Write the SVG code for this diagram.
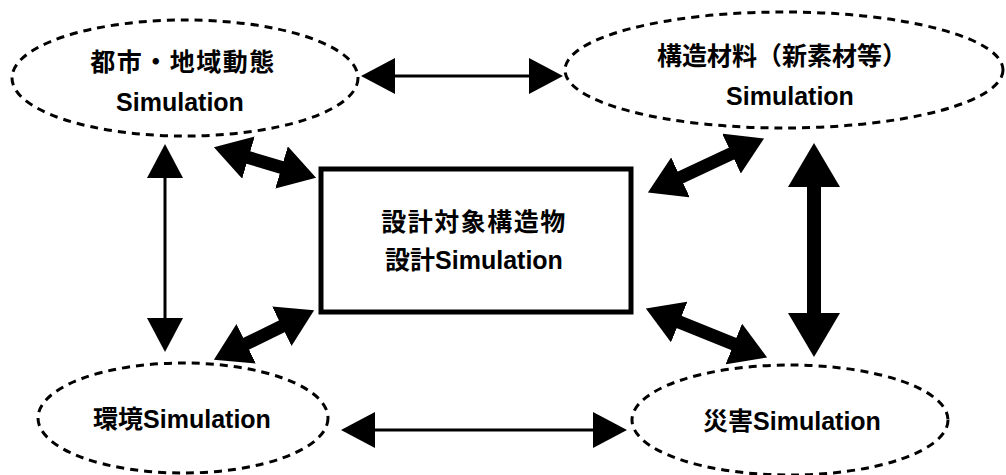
<svg xmlns="http://www.w3.org/2000/svg" width="1006" height="475" viewBox="0 0 1006 475">
<style>
.ell{fill:none;stroke:#000;stroke-width:3;stroke-dasharray:8 6}
.box{fill:#fff;stroke:#000;stroke-width:5}
.t{font-family:"Liberation Sans","Noto Sans CJK JP",sans-serif;font-size:25px;font-weight:bold;fill:#000;text-anchor:middle}
.cj{letter-spacing:1.5px}
.thin{fill:none;stroke:#000;stroke-width:3;marker-start:url(#hThin);marker-end:url(#hThin)}
.thick{fill:none;stroke:#000;stroke-width:13;marker-start:url(#hThick);marker-end:url(#hThick)}
.big{fill:none;stroke:#000;stroke-width:14;marker-start:url(#hBig);marker-end:url(#hBig)}
</style>
<defs>
<marker id="hThin" markerUnits="userSpaceOnUse" viewBox="0 0 34 36" refX="1" refY="18" markerWidth="34" markerHeight="36" orient="auto-start-reverse"><path d="M0,0 L34,18 L0,36 z" fill="#000"/></marker>
<marker id="hThick" markerUnits="userSpaceOnUse" viewBox="0 0 36 44" refX="1" refY="22" markerWidth="36" markerHeight="44" orient="auto-start-reverse"><path d="M0,0 L36,22 L0,44 z" fill="#000"/></marker>
<marker id="hBig" markerUnits="userSpaceOnUse" viewBox="0 0 44 52" refX="1" refY="26" markerWidth="44" markerHeight="52" orient="auto-start-reverse"><path d="M0,0 L44,26 L0,52 z" fill="#000"/></marker>
</defs>
<rect width="1006" height="475" fill="#fff"/>
<g id="connectors">
<path class="thin" d="M394,76 L530,76"/>
<path class="thin" d="M165,177 L165,319"/>
<path class="thin" d="M374,430 L594,430"/>
<path class="thick" d="M247.5,157.3 L282.5,167.7"/>
<path class="thick" d="M245.3,344.2 L282.7,325.8"/>
<path class="thick" d="M679.6,177.8 L732.4,153.2"/>
<path class="thick" d="M678.3,321.6 L734.7,344.4"/>
<path class="big" d="M814,186 L814,314"/>
</g>
<g id="node-toshi">
<ellipse class="ell" cx="185" cy="78" rx="173" ry="58"/>
<text class="t cj" x="183" y="71">都市・地域動態</text>
<text class="t" x="180" y="111">Simulation</text>
</g>
<g id="node-zairyo">
<ellipse class="ell" cx="784" cy="70" rx="219" ry="58"/>
<text class="t" x="782" y="65">構造材料（新素材等）</text>
<text class="t" x="790" y="105">Simulation</text>
</g>
<g id="node-sekkei">
<rect class="box" x="321" y="169" width="310" height="143"/>
<text class="t cj" x="474" y="231">設計対象構造物</text>
<text class="t" x="474" y="269">設計Simulation</text>
</g>
<g id="node-kankyo">
<ellipse class="ell" cx="183" cy="418" rx="145" ry="55"/>
<text class="t" x="182" y="428">環境Simulation</text>
</g>
<g id="node-saigai">
<ellipse class="ell" cx="790" cy="420" rx="158" ry="55"/>
<text class="t" x="792" y="430">災害Simulation</text>
</g>
</svg>
